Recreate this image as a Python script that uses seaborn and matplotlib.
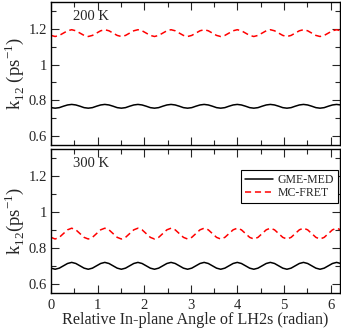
import numpy as np
import pandas as pd
import seaborn as sns
import matplotlib
matplotlib.use('Agg')
import matplotlib.pyplot as plt
from matplotlib.ticker import MultipleLocator, FuncFormatter

# sampling grid of the in-plane angle (radian)
step = 0.0888
angle = np.arange(71) * step

# 200 K panel (one period ~ 8 samples)
gme_200 = [
    0.759, 0.756, 0.759, 0.767, 0.774, 0.777, 0.774, 0.767,
    0.759, 0.756, 0.759, 0.767, 0.774, 0.777, 0.774, 0.767,
    0.759, 0.756, 0.759, 0.767, 0.774, 0.777, 0.774, 0.767,
    0.759, 0.756, 0.759, 0.767, 0.774, 0.777, 0.774, 0.767,
    0.759, 0.756, 0.759, 0.767, 0.774, 0.777, 0.774, 0.767,
    0.759, 0.756, 0.759, 0.767, 0.774, 0.777, 0.774, 0.767,
    0.759, 0.756, 0.759, 0.767, 0.774, 0.777, 0.774, 0.767,
    0.759, 0.756, 0.759, 0.767, 0.774, 0.777, 0.774, 0.767,
    0.759, 0.756, 0.759, 0.767, 0.774, 0.777, 0.774,
]
fret_200 = [
    1.163, 1.157, 1.163, 1.176, 1.189, 1.195, 1.189, 1.176,
    1.163, 1.157, 1.163, 1.176, 1.189, 1.195, 1.189, 1.176,
    1.163, 1.157, 1.163, 1.176, 1.189, 1.195, 1.189, 1.176,
    1.163, 1.157, 1.163, 1.176, 1.189, 1.195, 1.189, 1.176,
    1.163, 1.157, 1.163, 1.176, 1.189, 1.195, 1.189, 1.176,
    1.163, 1.157, 1.163, 1.176, 1.189, 1.195, 1.189, 1.176,
    1.163, 1.157, 1.163, 1.176, 1.189, 1.195, 1.189, 1.176,
    1.163, 1.157, 1.163, 1.176, 1.189, 1.195, 1.189, 1.176,
    1.163, 1.157, 1.163, 1.176, 1.189, 1.195, 1.189,
]

# 300 K panel
gme_300 = [
    0.688, 0.682, 0.688, 0.701, 0.714, 0.720, 0.714, 0.701,
    0.688, 0.682, 0.688, 0.701, 0.714, 0.720, 0.714, 0.701,
    0.688, 0.682, 0.688, 0.701, 0.714, 0.720, 0.714, 0.701,
    0.688, 0.682, 0.688, 0.701, 0.714, 0.720, 0.714, 0.701,
    0.688, 0.682, 0.688, 0.701, 0.714, 0.720, 0.714, 0.701,
    0.688, 0.682, 0.688, 0.701, 0.714, 0.720, 0.714, 0.701,
    0.688, 0.682, 0.688, 0.701, 0.714, 0.720, 0.714, 0.701,
    0.688, 0.682, 0.688, 0.701, 0.714, 0.720, 0.714, 0.701,
    0.688, 0.682, 0.688, 0.701, 0.714, 0.720, 0.714,
]
fret_300 = [
    0.859, 0.850, 0.859, 0.880, 0.901, 0.910, 0.901, 0.880,
    0.859, 0.850, 0.859, 0.880, 0.901, 0.910, 0.901, 0.880,
    0.859, 0.850, 0.859, 0.880, 0.901, 0.910, 0.901, 0.880,
    0.859, 0.850, 0.859, 0.880, 0.901, 0.910, 0.901, 0.880,
    0.859, 0.850, 0.859, 0.880, 0.901, 0.910, 0.901, 0.880,
    0.859, 0.850, 0.859, 0.880, 0.901, 0.910, 0.901, 0.880,
    0.859, 0.850, 0.859, 0.880, 0.901, 0.910, 0.901, 0.880,
    0.859, 0.850, 0.859, 0.880, 0.901, 0.910, 0.901, 0.880,
    0.859, 0.850, 0.859, 0.880, 0.901, 0.910, 0.901,
]

xticks = [0, 1, 2, 3, 4, 5, 6]
yticks = [0.6, 0.8, 1.0, 1.2]


def draw_panel(ax, gme, fret, temp, ylabel):
    sns.lineplot(x=angle, y=gme, color='black', lw=1.1, label='GME-MED', ax=ax)
    sns.lineplot(x=angle, y=fret, color='red', lw=1.1, ls=(0, (4, 2.5)),
                 label='MC-FRET', ax=ax)
    if ax.get_legend() is not None:
        ax.get_legend().remove()

    ax.set_xlim(0, 6.2)
    ax.set_ylim(0.55, 1.35)
    ax.set_xticks(xticks)
    ax.set_yticks(yticks)
    ax.xaxis.set_minor_locator(MultipleLocator(0.5))
    ax.yaxis.set_minor_locator(MultipleLocator(0.1))
    ax.yaxis.set_major_formatter(FuncFormatter(lambda v, p: '%g' % v))
    ax.tick_params(which='both', direction='in', top=True, right=True,
                   labelsize=10.5, width=0.8, pad=3)
    ax.tick_params(axis='x', which='major', pad=4.5)
    ax.tick_params(which='major', length=6)
    ax.tick_params(which='minor', length=3.5)
    for s in ax.spines.values():
        s.set_linewidth(1.0)
        s.set_color('black')

    ax.text(0.47, 1.268, temp, fontsize=10.5, va='center')
    ax.set_ylabel(ylabel, fontsize=13.5, labelpad=2)


sns.set_style('ticks')
plt.rcParams['font.family'] = ['Liberation Serif', 'DejaVu Serif']

fig = plt.figure(figsize=(3.41, 3.28), dpi=100)
ax1 = fig.add_axes([51 / 341, 1 - 145 / 328, 289 / 341, 143 / 328])
ax2 = fig.add_axes([51 / 341, 1 - 293 / 328, 289 / 341, 144 / 328])

draw_panel(ax1, gme_200, fret_200, '200 K',
           r'k$_\mathregular{12}$ (ps$^\mathregular{-1}$)')
draw_panel(ax2, gme_300, fret_300, '300 K',
           r'k$_\mathregular{12}$(ps$^\mathregular{-1}$)')

ax1.tick_params(labelbottom=False)
ax2.set_xlabel('Relative In-plane Angle of LH2s (radian)', fontsize=11.6, labelpad=0)

ax2.legend(loc='upper right', bbox_to_anchor=(0.993, 0.854), borderaxespad=0,
           fontsize=8.5, frameon=True, fancybox=False, edgecolor='black',
           framealpha=1, handlelength=2.3, handletextpad=0.4,
           labelspacing=0.1, borderpad=0.35).get_frame().set_linewidth(0.8)

fig.savefig('out.png', dpi=100)
